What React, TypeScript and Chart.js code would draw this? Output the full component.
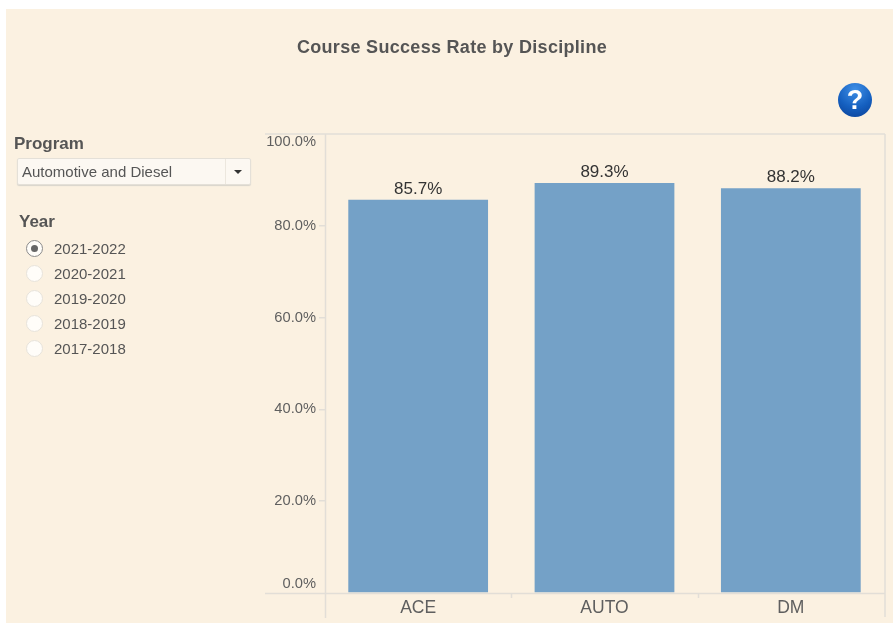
import React, { useEffect, useRef } from "react";
import { Chart, registerables } from "chart.js";

Chart.register(...registerables);

const categories = ["ACE", "AUTO", "DM"];
const successRates = [85.7, 89.3, 88.2];
const yTickValues = [0, 20, 40, 60, 80, 100];
const years = ["2021-2022", "2020-2021", "2019-2020", "2018-2019", "2017-2018"];
const programName = "Automotive and Diesel";
const titleText = "Course Success Rate by Discipline";

const FONT = '"Liberation Sans", Arial, sans-serif';
const LINE = "#e2ded7";
const TEXT = "#5f5f5f";

const framePlugin = {
  id: "frame",
  beforeDatasetsDraw(chart: any) {
    const { ctx, chartArea: a } = chart;
    ctx.save();
    ctx.strokeStyle = LINE;
    ctx.lineWidth = 1.5;
    ctx.beginPath();
    ctx.moveTo(265, a.top);
    ctx.lineTo(a.right + 1, a.top);
    ctx.moveTo(a.right + 1, a.top);
    ctx.lineTo(a.right + 1, 617);
    ctx.moveTo(265, a.bottom + 0.5);
    ctx.lineTo(a.right + 1, a.bottom + 0.5);
    ctx.moveTo(a.left + 0.5, a.top);
    ctx.lineTo(a.left + 0.5, 618);
    const x = chart.scales.x;
    for (let i = 0; i < categories.length - 1; i++) {
      const p = Math.round((x.getPixelForValue(i) + x.getPixelForValue(i + 1)) / 2) + 0.5;
      ctx.moveTo(p, a.bottom);
      ctx.lineTo(p, a.bottom + 5);
    }
    ctx.stroke();
    ctx.restore();
  },
};

const valueLabelPlugin = {
  id: "valueLabels",
  afterDatasetsDraw(chart: any) {
    const { ctx } = chart;
    const meta = chart.getDatasetMeta(0);
    ctx.save();
    ctx.font = `17px ${FONT}`;
    ctx.fillStyle = "#333333";
    ctx.textAlign = "center";
    ctx.textBaseline = "bottom";
    meta.data.forEach((bar: any, i: number) => {
      ctx.fillText(successRates[i].toFixed(1) + "%", bar.x, bar.y - 2);
    });
    ctx.restore();
  },
};

// The first and last value labels sit inside the plot's height instead of on their tick.
const edgeTickPlugin = {
  id: "edgeTicks",
  beforeDraw(chart: any) {
    const s = chart.scales.y;
    const items = s.getLabelItems(chart.chartArea);
    items.forEach((item: any) => {
      if (item.label === "0.0%") item.options.translation[1] = s.getPixelForValue(0) - 9;
      if (item.label === "100.0%") item.options.translation[1] = s.getPixelForValue(100) + 8;
    });
  },
};

export default function App() {
  const ref = useRef<HTMLCanvasElement | null>(null);

  useEffect(() => {
    if (!ref.current) return;
    const chart = new Chart(ref.current, {
      type: "bar",
      data: {
        labels: categories,
        datasets: [
          {
            data: successRates,
            backgroundColor: "#74a1c7",
            barPercentage: 0.75,
            categoryPercentage: 1,
          },
        ],
      },
      options: {
        animation: false,
        responsive: false,
        layout: { padding: { top: 134, right: 9, bottom: 0, left: 0 } },
        plugins: { legend: { display: false }, tooltip: { enabled: false }, title: { display: false } },
        scales: {
          x: {
            grid: { display: false, drawTicks: false },
            border: { display: false },
            ticks: { color: TEXT, font: { family: FONT, size: 17.5 }, padding: 5 },
            afterFit(s: any) {
              s.height = 30;
            },
          },
          y: {
            min: 0,
            max: 100,
            afterBuildTicks(s: any) {
              s.ticks = yTickValues.map((value) => ({ value }));
            },
            grid: {
              drawOnChartArea: false,
              tickLength: 6,
              lineWidth: 1.5,
              color: (c: any) => (c.tick && (c.tick.value === 0 || c.tick.value === 100) ? "transparent" : LINE),
            },
            border: { display: false },
            ticks: {
              color: TEXT,
              padding: 3,
              font: { family: FONT, size: 14.7 },
              callback: (v: any) => Number(v).toFixed(1) + "%",
            },
            afterFit(s: any) {
              s.width = 325;
            },
          },
        },
      },
      plugins: [framePlugin, valueLabelPlugin, edgeTickPlugin],
    } as any);
    return () => chart.destroy();
  }, []);

  return (
    <div style={{ position: "absolute", left: 0, top: 0, width: 893, height: 623, background: "#fff", overflow: "hidden", fontFamily: FONT }}>
      <div style={{ position: "absolute", left: 6, top: 9, width: 887, height: 614, background: "#fbf1e1" }} />
      <canvas ref={ref} width={893} height={623} style={{ position: "absolute", left: 0, top: 0, display: "block" }} />
      <div style={{ position: "absolute", left: 6, width: 892, top: 37, textAlign: "center", fontSize: 18, letterSpacing: 0.3, fontWeight: 700, color: "#555", lineHeight: "20px", whiteSpace: "nowrap" }}>{titleText}</div>
      <div style={{ position: "absolute", left: 838, top: 83, width: 34, height: 34, borderRadius: "50%", background: "radial-gradient(circle at 50% 20%, #3f8fe6 0%, #1560c0 55%, #0a3f95 100%)", color: "#fff", fontWeight: 700, fontSize: 27, lineHeight: "34px", textAlign: "center" }}>?</div>
      <div style={{ position: "absolute", left: 14, top: 134, fontSize: 17, fontWeight: 700, color: "#555", lineHeight: "19px" }}>Program</div>
      <div style={{ position: "absolute", left: 17, top: 158, width: 234, height: 27, boxSizing: "border-box", border: "1px solid #e4e0d8", borderRadius: 2, background: "#fcf8f2", boxShadow: "0 1px 1px #d8d4cc" }}>
        <div style={{ position: "absolute", left: 4, top: 0, fontSize: 15, color: "#555", lineHeight: "25px", whiteSpace: "nowrap" }}>{programName}</div>
        <div style={{ position: "absolute", right: 24, top: 0, width: 1, height: 25, background: "#ece7de" }} />
        <div style={{ position: "absolute", right: 8, top: 11, width: 0, height: 0, borderLeft: "4px solid transparent", borderRight: "4px solid transparent", borderTop: "4px solid #333" }} />
      </div>
      <div style={{ position: "absolute", left: 19, top: 212, fontSize: 17, fontWeight: 700, color: "#555", lineHeight: "19px" }}>Year</div>
      {years.map((y, i) => (
        <React.Fragment key={y}>
          <div style={{ position: "absolute", left: 26, top: 240 + i * 25, width: 17, height: 17, boxSizing: "border-box", borderRadius: "50%", background: "#fffdf9", border: i === 0 ? "1px solid #8a8a8a" : "1px solid #e6e2da" }}>
            {i === 0 && <div style={{ position: "absolute", left: 4, top: 4, width: 7, height: 7, borderRadius: "50%", background: "#666" }} />}
          </div>
          <div style={{ position: "absolute", left: 54, top: 240 + i * 25, fontSize: 15, color: "#555", lineHeight: "17px" }}>{y}</div>
        </React.Fragment>
      ))}
    </div>
  );
}
